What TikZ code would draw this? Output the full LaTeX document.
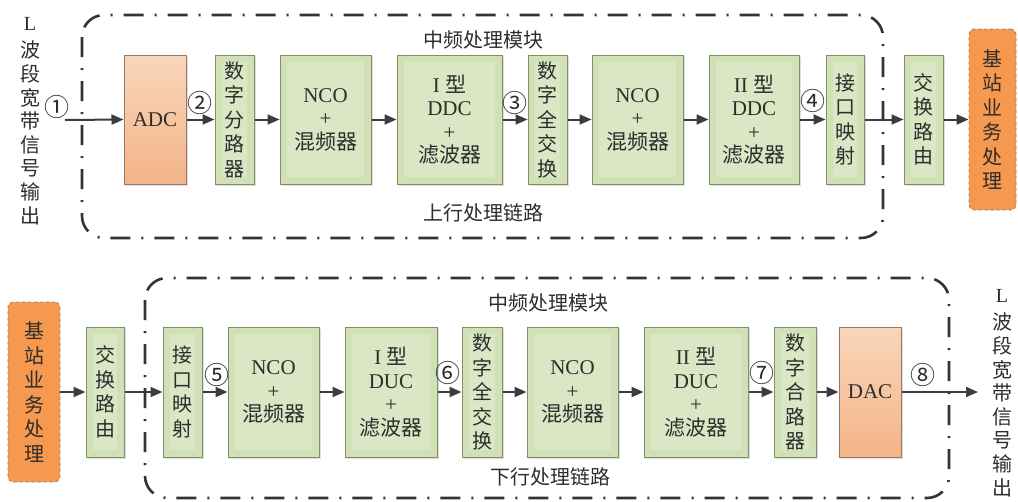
\documentclass[tikz,border=0pt]{standalone}
\usepackage{fontspec}
\setmainfont{Liberation Serif}
\newfontfamily\cjk{Noto Sans CJK SC}
\usetikzlibrary{arrows.meta,shadows}
\definecolor{gfill}{RGB}{210,224,184}
\definecolor{ginner}{RGB}{218,230,196}
\definecolor{gdraw}{RGB}{128,142,102}
\definecolor{atop}{RGB}{249,214,186}
\definecolor{abot}{RGB}{243,180,136}
\definecolor{adraw}{RGB}{150,120,100}
\definecolor{orng}{RGB}{246,153,78}
\definecolor{txt}{RGB}{45,45,45}
\definecolor{arr}{RGB}{60,60,60}
\newcommand{\zh}[1]{{\cjk #1}}
\begin{document}
\begin{tikzpicture}[x=1pt,y=-1pt,
  every node/.style={text=txt},
  box/.style={draw=gdraw, line width=1pt, fill=gfill, inner sep=0pt, align=center,
    font=\fontsize{21}{23.5}\selectfont,
    drop shadow={opacity=0.25, shadow xshift=1.5pt, shadow yshift=-1.5pt},
    path picture={\fill[ginner] ([shift={(7pt,-7pt)}]path picture bounding box.north west) rectangle ([shift={(-7pt,7pt)}]path picture bounding box.south east);}},
  vbox/.style={box, font=\cjk\fontsize{20}{24.5}\selectfont},
  abox/.style={draw=adraw, line width=1pt, top color=atop, bottom color=abot, inner sep=0pt,
    font=\fontsize{21}{23.5}\selectfont,
    drop shadow={opacity=0.25, shadow xshift=1.5pt, shadow yshift=-1.5pt}},
  obox/.style={draw=gray, dashed, line width=0.8pt, fill=orng, rounded corners=5pt, inner sep=0pt,
    align=center, font=\cjk\fontsize{20}{24.5}\selectfont},
  frame/.style={draw=black!80, line width=2.6pt, rounded corners=22pt,
    dash pattern=on 20pt off 11pt on 2pt off 11pt},
  conn/.style={draw=arr, line width=2pt, -{Triangle[length=12pt,width=10pt]}},
  num/.style={font=\cjk\fontsize{25}{25}\selectfont, inner sep=0pt},
  lbl/.style={font=\cjk\fontsize{20}{24}\selectfont, inner sep=0pt},
  side/.style={align=center, inner sep=0pt, font=\cjk\fontsize{20}{23.6}\selectfont}
]
\useasboundingbox (0,0) rectangle (1018,501);

% frames
\path[frame] (82,15) rectangle (883,238);
\path[frame] (145,278) rectangle (949,498);

% ---------- top row ----------
\node[side] (lin) at (30,121) {\textrm{L}\\[4pt]波\\段\\宽\\带\\信\\号\\输\\出};
\coordinate (tin) at (65,120);
\node[abox, minimum width=62pt, minimum height=129pt] (adc) at (155,119.5) {ADC};
\node[vbox, minimum width=39pt, minimum height=129pt] (split) at (234.5,119.5) {数\\字\\分\\路\\器};
\node[box, minimum width=91pt, minimum height=129pt] (nco1) at (325.5,119.5) {NCO\\+\\\zh{混频器}};
\node[box, minimum width=105pt, minimum height=129pt] (ddc1) at (449.5,119.5) {I \zh{型}\\DDC\\+\\\zh{滤波器}};
\node[vbox, minimum width=39pt, minimum height=129pt] (sw1) at (547.5,119.5) {数\\字\\全\\交\\换};
\node[box, minimum width=91pt, minimum height=129pt] (nco2) at (637.5,119.5) {NCO\\+\\\zh{混频器}};
\node[box, minimum width=90pt, minimum height=129pt] (ddc2) at (754,119.5) {II \zh{型}\\DDC\\+\\\zh{滤波器}};
\node[vbox, minimum width=38pt, minimum height=129pt] (if1) at (845,119.5) {接\\口\\映\\射};
\node[vbox, minimum width=39pt, minimum height=129pt] (rt1) at (923.5,119.5) {交\\换\\路\\由};
\node[obox, minimum width=47pt, minimum height=181pt] (bs1) at (992.5,119.5) {基\\站\\业\\务\\处\\理};

\node[lbl] (t1) at (483,40) {中频处理模块};
\node[lbl] (t2) at (483,213) {上行处理链路};

\node[num] (c1) at (57,107) {①};
\node[num] (c2) at (200,103) {②};
\node[num] (c3) at (515,103) {③};
\node[num] (c4) at (813,101) {④};

\draw[conn] (tin) -- (adc.west);
\draw[conn] (adc.east) -- (split.west);
\draw[conn] (split.east) -- (nco1.west);
\draw[conn] (nco1.east) -- (ddc1.west);
\draw[conn] (ddc1.east) -- (sw1.west);
\draw[conn] (sw1.east) -- (nco2.west);
\draw[conn] (nco2.east) -- (ddc2.west);
\draw[conn] (ddc2.east) -- (if1.west);
\draw[conn] (if1.east) -- (rt1.west);
\draw[conn] (rt1.east) -- (bs1.west);

% ---------- bottom row ----------
\node[obox, minimum width=52pt, minimum height=180pt] (bs2) at (34,392) {基\\站\\业\\务\\处\\理};
\node[vbox, minimum width=38pt, minimum height=130pt] (rt2) at (105,392) {交\\换\\路\\由};
\node[vbox, minimum width=39pt, minimum height=130pt] (if2) at (182.5,392) {接\\口\\映\\射};
\node[box, minimum width=91pt, minimum height=130pt] (nco3) at (273.5,392) {NCO\\+\\\zh{混频器}};
\node[box, minimum width=92pt, minimum height=130pt] (duc1) at (391,392) {I \zh{型}\\DUC\\+\\\zh{滤波器}};
\node[vbox, minimum width=40pt, minimum height=130pt] (sw2) at (482,392) {数\\字\\全\\交\\换};
\node[box, minimum width=91pt, minimum height=130pt] (nco4) at (572.5,392) {NCO\\+\\\zh{混频器}};
\node[box, minimum width=104pt, minimum height=130pt] (duc2) at (696,392) {II \zh{型}\\DUC\\+\\\zh{滤波器}};
\node[vbox, minimum width=42pt, minimum height=130pt] (comb) at (795,392) {数\\字\\合\\路\\器};
\node[abox, minimum width=62pt, minimum height=130pt] (dac) at (870,392) {DAC};
\coordinate (bout) at (978,392);
\node[side] (rout) at (1002,393) {\textrm{L}\\[4pt]波\\段\\宽\\带\\信\\号\\输\\出};

\node[lbl] (b1) at (548,303) {中频处理模块};
\node[lbl] (b2) at (550,477) {下行处理链路};

\node[num] (c5) at (217,375) {⑤};
\node[num] (c6) at (448,373) {⑥};
\node[num] (c7) at (762,373) {⑦};
\node[num] (c8) at (923,375) {⑧};

\draw[conn] (bs2.east) -- (rt2.west);
\draw[conn] (rt2.east) -- (if2.west);
\draw[conn] (if2.east) -- (nco3.west);
\draw[conn] (nco3.east) -- (duc1.west);
\draw[conn] (duc1.east) -- (sw2.west);
\draw[conn] (sw2.east) -- (nco4.west);
\draw[conn] (nco4.east) -- (duc2.west);
\draw[conn] (duc2.east) -- (comb.west);
\draw[conn] (comb.east) -- (dac.west);
\draw[conn] (dac.east) -- (bout);
\end{tikzpicture}
\end{document}
